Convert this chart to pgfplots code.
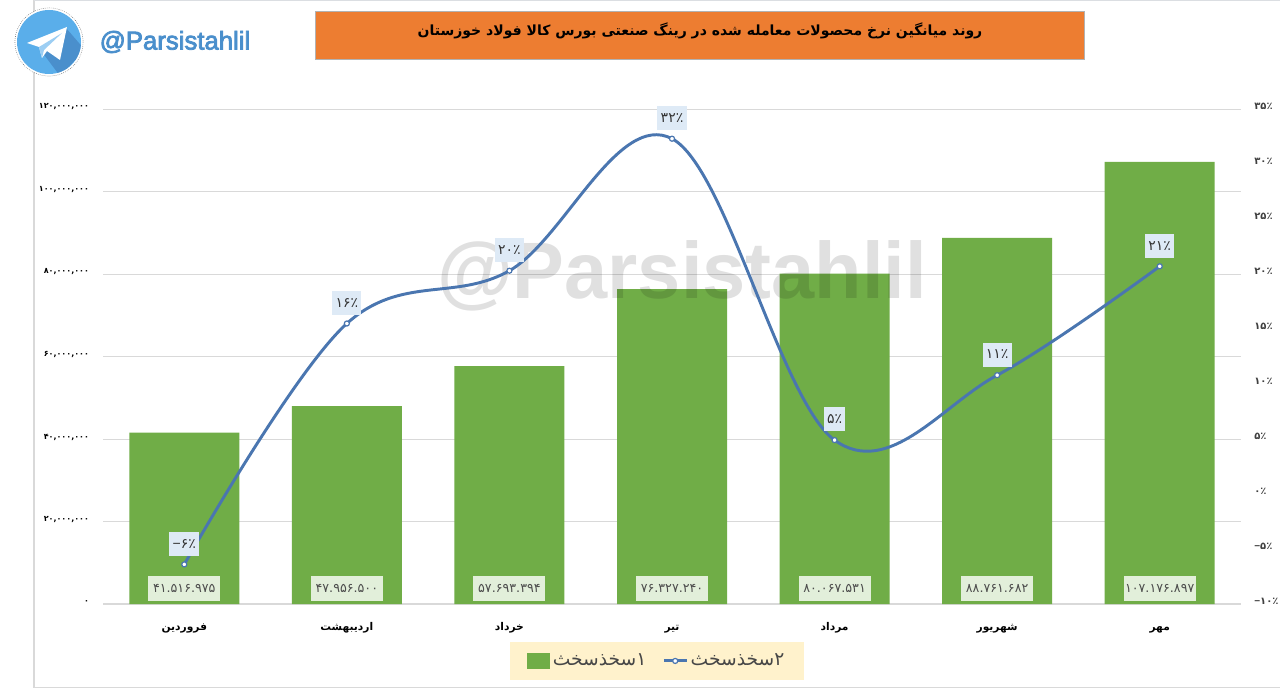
\documentclass[border=0pt]{standalone}
\usepackage{pgfplots}
\pgfplotsset{compat=1.18}
\usepackage{fontspec}
\setmainfont{Liberation Sans}
\newfontfamily\fa[Script=Arabic]{DejaVu Sans}
\newfontfamily\lgf[FakeBold=3]{Liberation Sans}
\TeXXeTstate=1
\newcommand{\rl}[1]{\beginR #1\endR}
\newcommand{\mn}{{\rmfamily −}}
\definecolor{barg}{HTML}{70AD47}
\definecolor{lineb}{HTML}{4A76B0}
\definecolor{lblg}{HTML}{E2EFDA}
\definecolor{lblb}{HTML}{DEEAF6}
\definecolor{orng}{HTML}{ED7D31}
\definecolor{leg}{HTML}{FFF2CC}
\definecolor{gridc}{HTML}{D9D9D9}
\definecolor{tele}{HTML}{5AAEEA}
\definecolor{teled}{HTML}{4A8FCC}
\tikzset{pix/.style={x=0.75pt,y=-0.75pt,yshift=516.75pt}}
\begin{document}
\begin{tikzpicture}
\useasboundingbox (0,0) rectangle (960pt,516.75pt);
\begin{scope}[pix]
\path[fill=white] (0,0) rectangle (1280,689);
\draw[gridc,line width=0.9pt] (34,0) -- (34,687.5) -- (1279.5,687.5);
\draw[gridc!70!lblb,line width=0.75pt] (34,0.5) -- (1280,0.5);
\end{scope}
\begin{axis}[
  at={(77.25pt,63.75pt)}, anchor=south west, scale only axis,
  width=853.5pt, height=371.25pt,
  xmin=-0.5, xmax=6.5, ymin=0, ymax=120000000,
  axis x line*=bottom, axis y line*=left,
  y axis line style={draw=none}, x axis line style={gridc,line width=0.8pt,-},
  tick style={draw=none},
  ymajorgrids, grid style={gridc,line width=0.6pt},
  scaled y ticks=false,
  ytick={0,20000000,40000000,60000000,80000000,100000000,120000000},
  yticklabels={۰,{۲۰,۰۰۰,۰۰۰},{۴۰,۰۰۰,۰۰۰},{۶۰,۰۰۰,۰۰۰},{۸۰,۰۰۰,۰۰۰},{۱۰۰,۰۰۰,۰۰۰},{۱۲۰,۰۰۰,۰۰۰}},
  yticklabel style={font=\fa\bfseries\fontsize{6}{7}\selectfont,black,yshift=1.5pt,xshift=-7pt},
  xtick={0,1,2,3,4,5,6},
  xticklabels={\rl{فروردین},\rl{اردیبهشت},\rl{خرداد},\rl{تیر},\rl{مرداد},\rl{شهریور},\rl{مهر}},
  xticklabel style={font=\fa\bfseries\fontsize{8}{10}\selectfont,black,yshift=-8pt,text height=8pt,text depth=3pt},
  clip=false,
]
\addplot[ybar,bar width=82.5pt,fill=barg,draw=none] coordinates {
 (0,41516975) (1,47956500) (2,57693394) (3,76327240) (4,80067531) (5,88761682) (6,107176897)};
\addplot[draw=none,mark=none,nodes near coords,point meta=explicit symbolic,
  every node near coord/.style={anchor=center,fill=lblg,minimum width=54pt,minimum height=19pt,inner sep=0pt,
    text=black!70,font=\fa\fontsize{9.5}{10}\selectfont}] coordinates {
 (0,3760000)[۴۱.۵۱۶.۹۷۵] (1,3760000)[۴۷.۹۵۶.۵۰۰] (2,3760000)[۵۷.۶۹۳.۳۹۴] (3,3760000)[۷۶.۳۲۷.۲۴۰]
 (4,3760000)[۸۰.۰۶۷.۵۳۱] (5,3760000)[۸۸.۷۶۱.۶۸۲] (6,3760000)[۱۰۷.۱۷۶.۸۹۷]};
\end{axis}
\begin{scope}[pix]
% watermark over the bars
\node[text=black,text opacity=0.12,font=\bfseries\fontsize{60}{66}\selectfont,xscale=0.97] at (682,276) {@Parsistahlil};
% title
\node[fill=orng,draw=gray!60,line width=0.6pt,minimum width=577pt,minimum height=36.5pt,inner sep=0pt] at (700,35.5) {};
\node[font=\fa\bfseries\fontsize{10.5}{13}\selectfont,text=black] at (700,31) {\rl{روند میانگین نرخ محصولات معامله شده در رینگ صنعتی بورس کالا فولاد خوزستان}};
% telegram logo
\draw[black!55,densely dotted,line width=0.5pt] (49,42) circle[radius=34];
\fill[white] (49,42) circle[radius=33.5];
\begin{scope}
\clip (49,42) circle[radius=32];
\fill[tele] (16,9) rectangle (82,75);
\fill[teled] (42,52) -- (66,28) -- (85,50) -- (60,76) -- cycle;
\fill[white] (27,43) -- (67,27) -- (60,60) -- (47,51) -- (42,58) -- (39,47) -- cycle;
\fill[tele!60!white] (39,47) -- (62,33) -- (44,50) -- (42,58) -- cycle;
\end{scope}
\node[text=teled,font=\lgf\fontsize{19.3}{22}\selectfont] at (175,42) {@Parsistahlil};
\end{scope}
\begin{axis}[
  at={(77.25pt,63.75pt)}, anchor=south west, scale only axis,
  width=853.5pt, height=371.25pt,
  xmin=-0.5, xmax=6.5, ymin=-10, ymax=35,
  axis x line=none, axis y line*=right,
  y axis line style={draw=none}, tick style={draw=none},
  ytick={-10,-5,0,5,10,15,20,25,30,35},
  yticklabels={\mn۱۰٪,\mn۵٪,۰٪,۵٪,۱۰٪,۱۵٪,۲۰٪,۲۵٪,۳۰٪,۳۵٪},
  yticklabel style={font=\fa\bfseries\fontsize{7.5}{8}\selectfont,black!75,yshift=2pt,xshift=6.5pt},
  clip=false,
  legend style={at={(0.4868,-0.115)},anchor=center,fill=leg,draw=none,legend columns=2,
    font=\fa\fontsize{14}{16}\selectfont,text=black!72,inner xsep=13pt,inner ysep=7pt,
    /tikz/every even column/.append style={column sep=10pt}},
  legend cell align=left,
]
\addlegendimage{legend image code/.code={\fill[barg,draw=none] (0.05cm,-0.21cm) rectangle (0.66cm,0.21cm);}}
\addlegendentry{\rl{۱سخذسخث}}
\addplot[lineb,line width=2.2pt,smooth,tension=0.6,
  mark=*,mark size=1.9pt,mark options={fill=white,draw=lineb,line width=0.9pt},
  nodes near coords,point meta=explicit symbolic,
  every node near coord/.style={anchor=center,yshift=15.5pt,fill=lblb,inner sep=2.5pt,minimum height=18pt,
    text=black!80,font=\fa\fontsize{10.5}{11}\selectfont}] coordinates {
 (0,-6.4)[\mn۶٪] (1,15.5)[۱۶٪] (2,20.3)[۲۰٪] (3,32.3)[۳۲٪] (4,4.9)[۵٪] (5,10.8)[۱۱٪] (6,20.7)[۲۱٪]};
\addlegendentry{\rl{۲سخذسخث}}
\end{axis}
\end{tikzpicture}
\end{document}
